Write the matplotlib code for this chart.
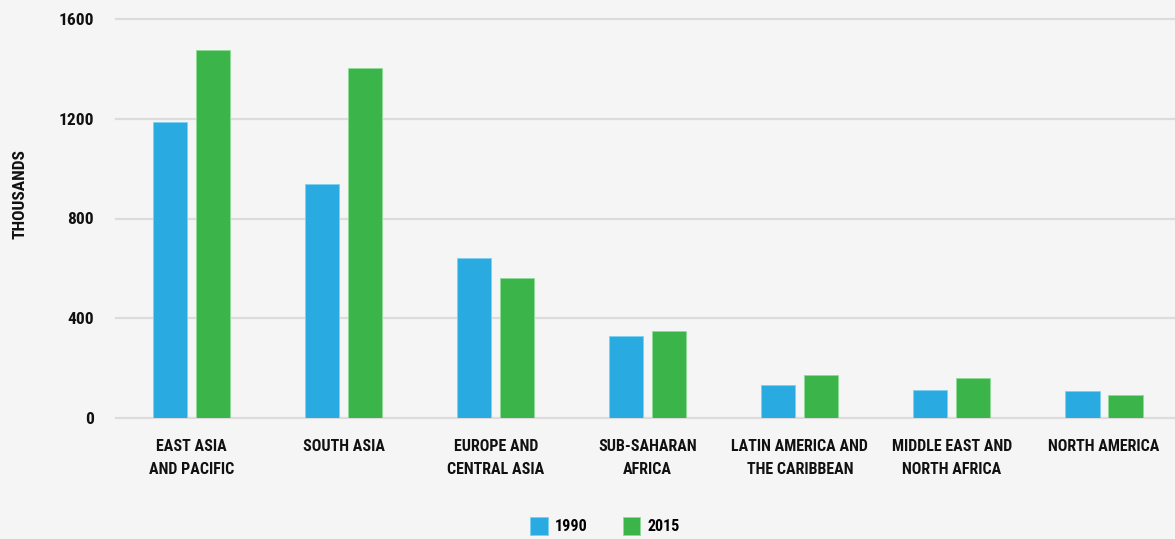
import matplotlib
matplotlib.use("Agg")
import matplotlib.pyplot as plt
import numpy as np

regions = ["EAST ASIA\nAND PACIFIC", "SOUTH ASIA", "EUROPE AND\nCENTRAL ASIA",
           "SUB-SAHARAN\nAFRICA", "LATIN AMERICA AND\nTHE CARIBBEAN",
           "MIDDLE EAST AND\nNORTH AFRICA", "NORTH AMERICA"]
values_1990 = [1187, 938, 641, 329, 131, 112, 110]
values_2015 = [1475, 1403, 561, 349, 172, 161, 92]
yticks = [0, 400, 800, 1200, 1600]

# narrow bold face for all labels
plt.rcParams['font.family'] = ['Roboto Condensed', 'DejaVu Sans Condensed', 'Liberation Sans Narrow', 'Roboto']
plt.rcParams['font.weight'] = 'bold'
plt.rcParams['font.stretch'] = 'condensed'

bg = "#f5f5f5"
blue = "#29abe2"
green = "#3bb54a"

fig = plt.figure(figsize=(11.75, 5.39), dpi=100, facecolor=bg)
ax = fig.add_axes([116/1175, 1 - 418/539, 1 - 116/1175 + 0.003, (418 - 19)/539])
ax.set_facecolor(bg)

x = np.arange(len(regions))
off = 0.1414
w = 0.224
ax.bar(x - off, values_1990, w, color=blue, edgecolor="#7fd0f0", linewidth=0.6, label="1990", zorder=3)
ax.bar(x + off, values_2015, w, color=green, edgecolor="#8fdc98", linewidth=0.6, label="2015", zorder=3)

ax.set_xlim(-0.497, 6.49)
ax.set_ylim(0, 1600)
ax.set_yticks(yticks)
ax.set_yticklabels([str(t) for t in yticks], fontsize=12.5, color="#111111")
ax.set_xticks(x)
ax.set_xticklabels(regions, fontsize=11.5, color="#111111", linespacing=1.65, va="top")
ax.tick_params(axis="y", length=0, pad=16)
ax.tick_params(axis="x", length=0, pad=15)

# gridlines, including the zero baseline
for t in yticks:
    ax.axhline(t, color="#dcdcdc", linewidth=1.6, zorder=1, clip_on=False)
for s in ax.spines.values():
    s.set_visible(False)

fig.text(20/1175, 1 - 194/539, "THOUSANDS", rotation=90, ha="center", va="center",
         fontsize=12.5, color="#111111")

leg = fig.legend(loc="center", bbox_to_anchor=(605/1175, 1 - 526/539), ncol=2, frameon=False,
                 fontsize=11.5, handlelength=1.1, handleheight=1.4, columnspacing=2.2,
                 handletextpad=0.45)

fig.savefig("out.png", dpi=100, facecolor=bg)
